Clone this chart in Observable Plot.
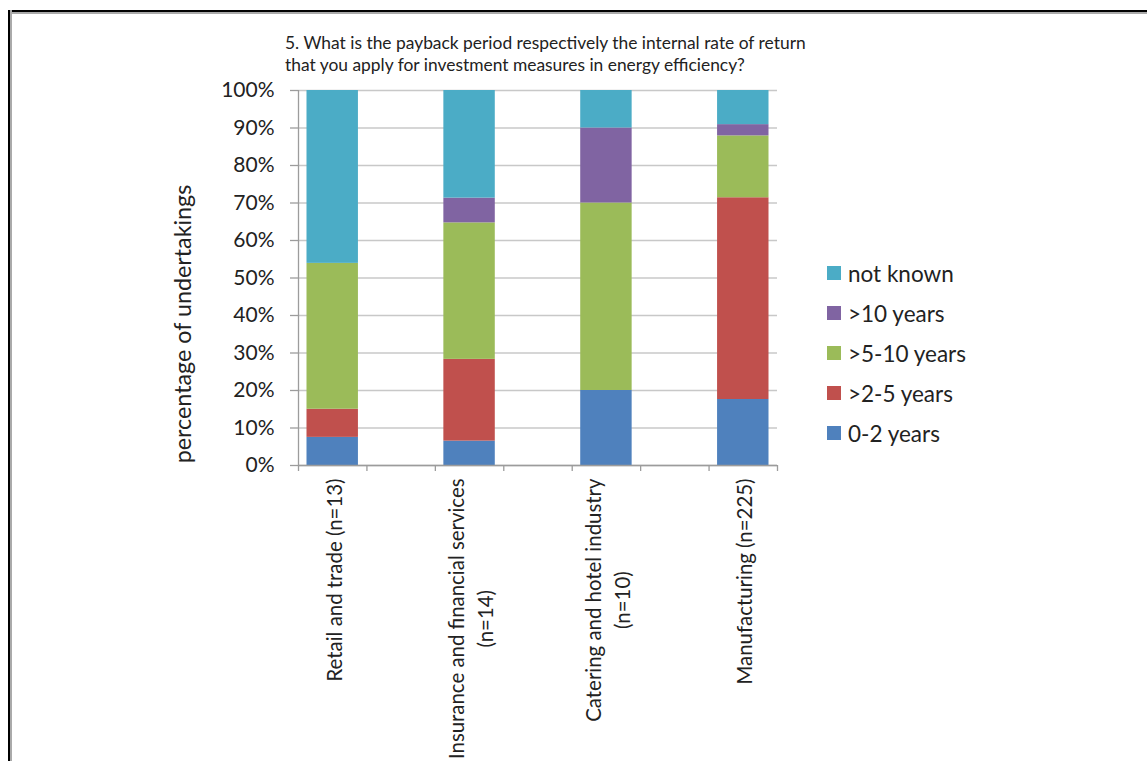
<!DOCTYPE html>
<html>
<head>
<meta charset="utf-8">
<script src="https://cdn.jsdelivr.net/npm/d3@7"></script>
<script src="https://cdn.jsdelivr.net/npm/@observablehq/plot@0.6"></script>
<style>
  html, body { margin: 0; padding: 0; background: #fff; }
  #page { position: relative; width: 1147px; height: 761px; overflow: hidden; font-family: Lato, "Open Sans", sans-serif; color: #222; }
  #chart { position: absolute; left: 0; top: 0; }
  #title { position: absolute; left: 285px; top: 32px; font-size: 17.4px; line-height: 22px; white-space: nowrap; color: #222; }
  #legend { position: absolute; left: 827px; top: 253px; }
  .li { display: flex; align-items: center; height: 40px; font-size: 22.5px; white-space: nowrap; }
  .sw { width: 14px; height: 14px; margin-right: 7px; }
  #btop { position: absolute; left: 8px; top: 10px; right: 0; height: 2px; background: #000; box-shadow: 0 2px 0 #aaa; }
  #bleft { position: absolute; left: 8px; top: 10px; bottom: 0; width: 2px; background: #000; box-shadow: 2px 0 0 #aaa; }
</style>
</head>
<body>
<div id="page">
  <div id="chart"></div>
  <div id="title"></div>
  <div id="legend"></div>
  <div id="btop"></div>
  <div id="bleft"></div>
</div>
<script>
// ---- data ----
const titleLines = ["5. What is the payback period respectively the internal rate of return",
                    "that you apply for investment measures in energy efficiency?"];
const yTitle = "percentage of undertakings";
const categories = ["Retail and trade (n=13)",
                    "Insurance and financial services\n(n=14)",
                    "Catering and hotel industry\n(n=10)",
                    "Manufacturing (n=225)"];
const seriesNames = ["0-2 years", ">2-5 years", ">5-10 years", ">10 years", "not known"];
const seriesColors = ["#4F81BD", "#C0504D", "#9BBB59", "#8064A2", "#4BACC6"];
const vals_0_2     = [7.5, 6.5, 20.0, 17.6];
const vals_2_5     = [7.5, 21.8, 0.0, 53.8];
const vals_5_10    = [38.9, 36.4, 50.0, 16.5];
const vals_10      = [0.0, 6.6, 20.0, 3.0];
const vals_unknown = [46.1, 28.7, 10.0, 9.1];
const yTicks = [0, 10, 20, 30, 40, 50, 60, 70, 80, 90, 100];

const seriesValues = [vals_0_2, vals_2_5, vals_5_10, vals_10, vals_unknown];
// each category occupies a slot, with an empty slot between categories
const catTable = categories.map((c, i) => ({cat: c, slot: 2 * i}));
const table = [];
catTable.forEach((c, i) => {
  seriesNames.forEach((s, j) => table.push({cat: c.cat, slot: c.slot, series: s, value: seriesValues[j][i]}));
});
const nSlots = 2 * categories.length - 1;

const gridColor = "#c8c8c8";
const axisColor = "#9c9c9c";

const plot = Plot.plot({
  width: 1147,
  height: 761,
  marginLeft: 298,
  marginRight: 370,
  marginTop: 90,
  marginBottom: 296,
  style: {fontFamily: "Lato, 'Open Sans', sans-serif", color: "#222", background: "transparent"},
  x: {type: "linear", domain: [0, nSlots], axis: null},
  y: {domain: [0, 100], axis: null, label: null},
  color: {domain: seriesNames, range: seriesColors},
  marks: [
    Plot.gridY(yTicks, {stroke: gridColor, strokeOpacity: 1, strokeWidth: 1.3}),
    Plot.rectY(table, Plot.stackY({
      x1: "slot", x2: d => d.slot + 1, y: "value", fill: "series",
      order: seriesNames, insetLeft: 8.5, insetRight: 8.5
    })),
    Plot.ruleX([0], {stroke: axisColor, strokeWidth: 1.3}),
    Plot.ruleY([0], {stroke: axisColor, strokeWidth: 1.3}),
    Plot.axisY({ticks: yTicks, tickSize: 8, tickPadding: 16, tickFormat: d => d + "%",
                fontSize: 21, stroke: axisColor, strokeWidth: 1.3, fill: "#222", label: null}),
    Plot.axisX({ticks: d3.range(0, nSlots + 1), tickSize: 6, tickFormat: () => "",
                stroke: axisColor, strokeWidth: 1.3, label: null}),
    Plot.text(catTable, {
      x: d => d.slot + 0.5, frameAnchor: "bottom", dy: 13, text: "cat",
      rotate: -90, textAnchor: "middle", lineAnchor: "middle", lineHeight: 1.4,
      fontSize: 20.4, fill: "#222"
    }),
    Plot.text([yTitle], {
      frameAnchor: "left", dx: -115, dy: 46, rotate: -90, textAnchor: "middle",
      lineAnchor: "middle", fontSize: 23.3, fill: "#222"
    })
  ]
});
document.getElementById("chart").appendChild(plot);

// shift the category labels so that their longest line starts just under the axis
const labelLines = new Set(categories.flatMap(c => c.split("\n")));
plot.querySelectorAll("text").forEach(t => {
  const spans = Array.from(t.querySelectorAll("tspan"));
  const parts = spans.length ? spans : [t];
  if (!parts.some(p => labelLines.has(p.textContent))) return;
  let L = 0;
  parts.forEach(p => { L = Math.max(L, p.getComputedTextLength()); });
  const tr = t.getAttribute("transform") || "";
  t.setAttribute("transform", tr + ` translate(${-L / 2},0)`);
});

// title
const titleEl = document.getElementById("title");
titleLines.forEach(l => { const d = document.createElement("div"); d.textContent = l; titleEl.appendChild(d); });

// legend (top item = last series)
const legendEl = document.getElementById("legend");
seriesNames.slice().reverse().forEach(s => {
  const row = document.createElement("div"); row.className = "li";
  const sw = document.createElement("div"); sw.className = "sw";
  sw.style.background = seriesColors[seriesNames.indexOf(s)];
  const tx = document.createElement("span"); tx.textContent = s;
  row.appendChild(sw); row.appendChild(tx); legendEl.appendChild(row);
});
</script>
</body>
</html>
